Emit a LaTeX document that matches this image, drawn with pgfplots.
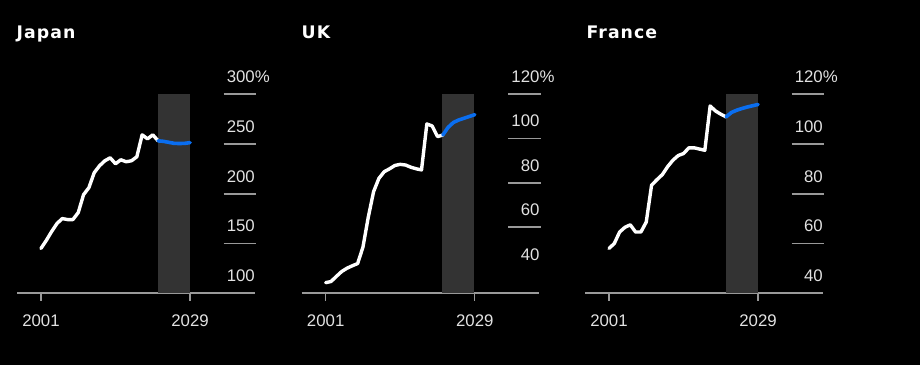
\documentclass[border=0pt]{standalone}
\usepackage{fontspec}
\setmainfont{Liberation Sans}
\newfontfamily\titlefont[LetterSpace=6]{DejaVu Sans}
\usepackage{pgfplots}
\pgfplotsset{compat=1.18}
\definecolor{bandgray}{HTML}{333333}
\definecolor{gridgray}{HTML}{999999}
\definecolor{labelgray}{HTML}{E2E2E2}
\definecolor{fblue}{HTML}{0A6EF0}
\tikzset{xt/.style={draw=gridgray, line width=1.2pt}}

\pgfplotstableread{
year val
2001 145
2002 153
2003 162
2004 170
2005 175
2006 174
2007 174
2008 181
2009 199
2010 206
2011 221
2012 228
2013 233
2014 236
2015 230
2016 234
2017 232
2018 233
2019 237
2020 259
2021 255
2022 259
2023 253
}\japanhist
\pgfplotstableread{
year val
2023 253
2024 252.5
2025 251.5
2026 250.5
2027 250.3
2028 250.5
2029 251.2
}\japanfc

\pgfplotstableread{
year val
2001 35
2002 35.5
2003 37.8
2004 40
2005 41.5
2006 42.6
2007 43.6
2008 51
2009 64.5
2010 76
2011 82
2012 85
2013 86.3
2014 87.8
2015 88.3
2016 88
2017 87
2018 86.3
2019 85.8
2020 106.5
2021 105.6
2022 100.8
2023 101.5
}\ukhist
\pgfplotstableread{
year val
2023 101.5
2024 105
2025 107.2
2026 108.3
2027 109.1
2028 109.9
2029 110.7
}\ukfc

\pgfplotstableread{
year val
2001 58
2002 60
2003 64.6
2004 66.5
2005 67.5
2006 64.6
2007 64.6
2008 68.6
2009 83.4
2010 85.6
2011 87.6
2012 90.8
2013 93.4
2014 95.3
2015 96.1
2016 98.4
2017 98.4
2018 97.9
2019 97.4
2020 115.2
2021 113.2
2022 111.9
2023 110.8
}\frhist
\pgfplotstableread{
year val
2023 110.8
2024 112.6
2025 113.5
2026 114.2
2027 114.8
2028 115.3
2029 115.8
}\frfc

\pgfplotsset{
  panel/.style={
    scale only axis, width=237.5pt, height=199.3pt,
    xmin=1996.5, xmax=2041.1, clip=false,
    axis x line*=bottom, axis y line*=right,
    x axis line style={draw=gridgray, line width=1.7pt},
    y axis line style={draw=none},
    xtick={2001,2029}, xticklabels={2001,2029},
    major tick length=0pt,
    xtick style={draw=none},
    ytick style={draw=none},
    yticklabel pos=right,
    tick label style={text=labelgray, font=\fontsize{16.8}{18}\selectfont, inner sep=0pt},
    xticklabel style={anchor=base, yshift=-33.5pt},
    yticklabel style={anchor=base east, xshift=0.5pt, yshift=11.5pt},
  },
  hist/.style={white, line width=3.4pt, line join=round, line cap=round},
  fc/.style={fblue, line width=3.6pt, line join=round, line cap=round},
  band/.style={fill=bandgray, draw=none},
}

\begin{document}
\begin{tikzpicture}[x=1pt,y=1pt]
\fill[black] (0,0) rectangle (920,365);
\useasboundingbox (0,0) rectangle (920,365);

\node[anchor=base west, inner sep=0pt, text=white] at (16.5,326) {\titlefont\bfseries\fontsize{17.3}{19}\selectfont Japan};
\node[anchor=base west, inner sep=0pt, text=white] at (301.5,326) {\titlefont\bfseries\fontsize{17.3}{19}\selectfont UK};
\node[anchor=base west, inner sep=0pt, text=white] at (586.5,326) {\titlefont\bfseries\fontsize{17.3}{19}\selectfont France};

% Japan
\begin{axis}[panel, at={(17pt,71.7pt)}, anchor=south west,
  ymin=100, ymax=300, ytick={100,150,200,250,300},
  yticklabels={100,150,200,250,300\rlap{\%}}]
\addplot[band] coordinates {(2022.9,100) (2028.9,100) (2028.9,300) (2022.9,300)} --cycle;
\pgfplotsinvokeforeach{150,200,250,300}{\draw[gridgray, line width=1.7pt] (axis cs:2035.3,#1) -- (axis cs:2041.4,#1);}
\pgfplotsinvokeforeach{2001,2029}{\draw[xt] (axis cs:#1,100) -- ++(0pt,-7.5pt);}
\addplot[hist] table[x=year,y=val] {\japanhist};
\addplot[fc] table[x=year,y=val] {\japanfc};
\end{axis}

% UK
\begin{axis}[panel, at={(301.7pt,71.7pt)}, anchor=south west,
  ymin=30.2, ymax=120, ytick={40,60,80,100,120},
  yticklabels={40,60,80,100,120\rlap{\%}}]
\addplot[band] coordinates {(2022.9,30.2) (2028.9,30.2) (2028.9,120) (2022.9,120)} --cycle;
\pgfplotsinvokeforeach{60,80,100,120}{\draw[gridgray, line width=1.7pt] (axis cs:2035.3,#1) -- (axis cs:2041.4,#1);}
\pgfplotsinvokeforeach{2001,2029}{\draw[xt] (axis cs:#1,30.2) -- ++(0pt,-7.5pt);}
\addplot[hist] table[x=year,y=val] {\ukhist};
\addplot[fc] table[x=year,y=val] {\ukfc};
\end{axis}

% France
\begin{axis}[panel, at={(585pt,71.7pt)}, anchor=south west,
  ymin=40, ymax=120, ytick={40,60,80,100,120},
  yticklabels={40,60,80,100,120\rlap{\%}}]
\addplot[band] coordinates {(2022.9,40) (2028.9,40) (2028.9,120) (2022.9,120)} --cycle;
\pgfplotsinvokeforeach{60,80,100,120}{\draw[gridgray, line width=1.7pt] (axis cs:2035.3,#1) -- (axis cs:2041.4,#1);}
\pgfplotsinvokeforeach{2001,2029}{\draw[xt] (axis cs:#1,40) -- ++(0pt,-7.5pt);}
\addplot[hist] table[x=year,y=val] {\frhist};
\addplot[fc] table[x=year,y=val] {\frfc};
\end{axis}
\end{tikzpicture}
\end{document}
